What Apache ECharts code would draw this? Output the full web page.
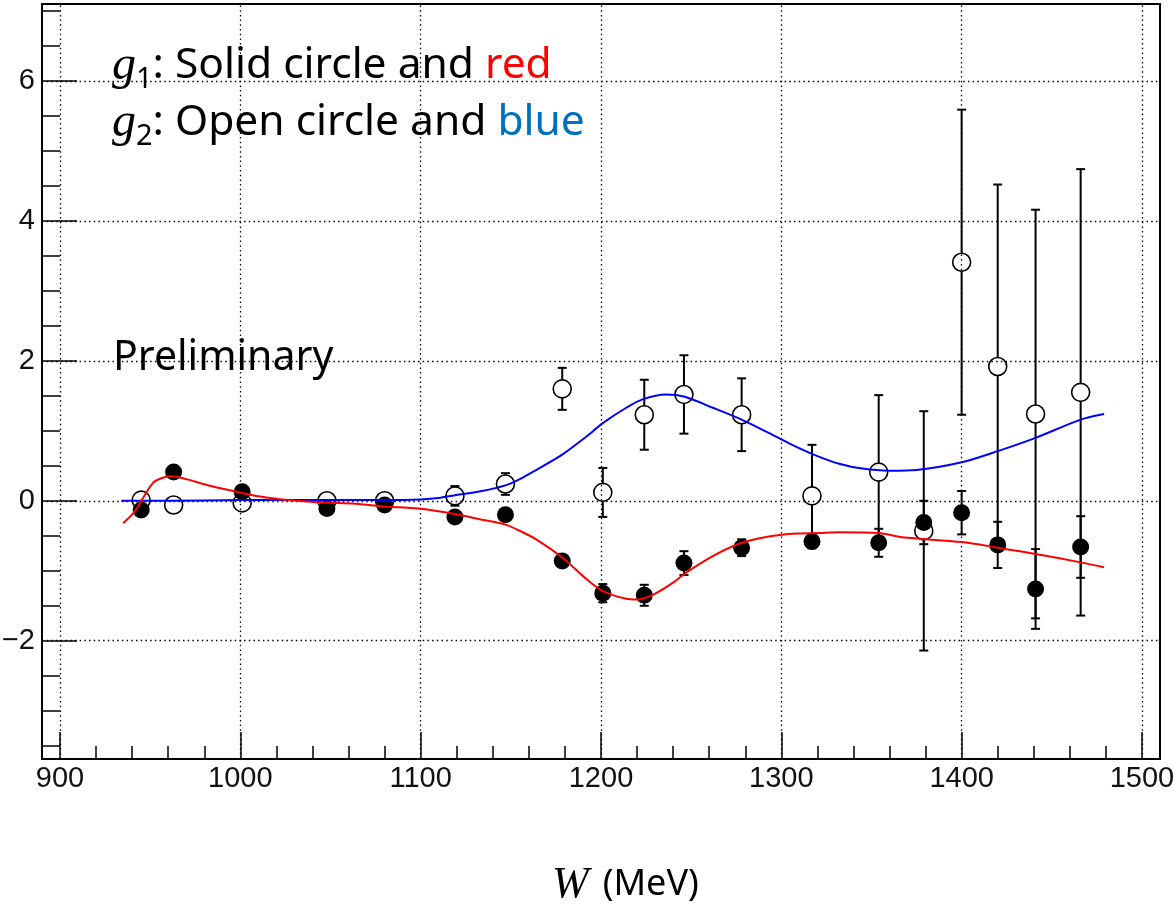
<!DOCTYPE html>
<html><head><meta charset="utf-8">
<script src="https://cdn.jsdelivr.net/npm/echarts@6/dist/echarts.min.js"></script>
<style>html,body{margin:0;padding:0;background:#fff}#c{width:1173px;height:906px}</style>
</head><body><div id="c"></div>
<script>
// ---- data ----
const W      = [945, 963, 1001, 1048, 1080, 1119, 1147, 1178.5, 1201, 1224, 1246, 1278, 1317, 1354, 1379, 1400, 1420, 1441, 1466];
const g1     = [-0.13, 0.41, 0.13, -0.11, -0.06, -0.23, -0.20, -0.86, -1.32, -1.35, -0.89, -0.67, -0.58, -0.60, -0.31, -0.17, -0.63, -1.26, -0.66];
const g1Err  = [0.05, 0.05, 0.06, 0.05, 0.05, 0.06, 0.06, 0.08, 0.13, 0.15, 0.17, 0.12, 0.10, 0.20, 0.31, 0.31, 0.33, 0.57, 0.44];
const g2     = [0.01, -0.06, -0.03, 0.00, 0.00, 0.07, 0.24, 1.60, 0.12, 1.23, 1.52, 1.23, 0.07, 0.41, -0.43, 3.41, 1.92, 1.24, 1.55];
const g2Err  = [0.05, 0.05, 0.10, 0.05, 0.06, 0.14, 0.155, 0.30, 0.35, 0.50, 0.56, 0.52, 0.73, 1.10, 1.71, 2.18, 2.60, 2.92, 3.19];

const redW   = [935, 941.5, 946, 951.7, 957, 962, 970, 981, 996, 1011, 1026, 1042, 1062, 1079, 1099, 1119, 1134, 1147, 1155, 1164, 1178.5, 1192, 1201, 1214, 1220, 1229, 1240, 1247, 1262, 1277, 1293, 1306, 1321, 1332, 1354, 1367, 1400, 1420, 1441, 1466, 1479];
const redV   = [-0.32, -0.15, 0.04, 0.26, 0.33, 0.35, 0.31, 0.23, 0.14, 0.06, 0.01, -0.02, -0.04, -0.08, -0.11, -0.19, -0.27, -0.34, -0.43, -0.55, -0.81, -1.12, -1.29, -1.40, -1.41, -1.34, -1.17, -1.03, -0.79, -0.61, -0.51, -0.47, -0.46, -0.45, -0.46, -0.52, -0.59, -0.67, -0.76, -0.88, -0.95];
const blueW  = [934, 960, 1000, 1050, 1080, 1100, 1110, 1119, 1134, 1147, 1155, 1164, 1178.5, 1192, 1201, 1214, 1223, 1236, 1246, 1262, 1278, 1293, 1306, 1319, 1332, 1345, 1360, 1375, 1400, 1420, 1441, 1466, 1479];
const blueV  = [0.00, 0.00, 0.01, 0.01, 0.01, 0.02, 0.04, 0.08, 0.14, 0.22, 0.31, 0.44, 0.66, 0.92, 1.11, 1.33, 1.45, 1.52, 1.49, 1.33, 1.16, 0.97, 0.80, 0.65, 0.53, 0.46, 0.43, 0.44, 0.55, 0.71, 0.90, 1.16, 1.24];

const xTickLabels = [900, 1000, 1100, 1200, 1300, 1400, 1500];
const yTickLabels = [-2, 0, 2, 4, 6];

// ---- axis ranges / ticks ----
const X_MIN = 890, X_MAX = 1510, Y_MIN = -3.69, Y_MAX = 7.1;
const xMinor = []; for (let v = 900; v <= 1500; v += 20) if (v % 100) xMinor.push(v);
const yMinor = []; for (let v = -3.5; v <= 7; v += 0.5) if (v % 2) yMinor.push(v);

const gridRect = {left: 42, right: 13, top: 4, bottom: 147, containLabel: false, outerBoundsMode: 'none'};

function errorBar(vals, errs) {
  return W.map((w, i) => [w, vals[i], errs[i]]);
}
function renderErr(params, api) {
  const x = api.value(0), y = api.value(1), e = api.value(2);
  const p1 = api.coord([x, y + e]), p2 = api.coord([x, y - e]);
  const c = 4.5;
  const st = {stroke: '#000', lineWidth: 2};
  return {type: 'group', children: [
    {type: 'line', shape: {x1: p1[0], y1: p1[1], x2: p2[0], y2: p2[1]}, style: st},
    {type: 'line', shape: {x1: p1[0] - c, y1: p1[1], x2: p1[0] + c, y2: p1[1]}, style: st},
    {type: 'line', shape: {x1: p2[0] - c, y1: p2[1], x2: p2[0] + c, y2: p2[1]}, style: st}
  ]};
}

const labelFont = {fontFamily: 'Liberation Sans', fontSize: 29, color: '#111'};
const noLine = {show: false, onZero: false};
const chart = echarts.init(document.getElementById('c'));
chart.setOption({
  animation: false,
  backgroundColor: '#fff',
  grid: [
    Object.assign({show: true, borderColor: '#000', borderWidth: 2, backgroundColor: 'transparent'}, gridRect),
    Object.assign({show: false}, gridRect)
  ],
  xAxis: [
    {type: 'value', gridIndex: 0, min: X_MIN, max: X_MAX,
     axisLine: noLine, splitLine: {show: false},
     axisTick: {show: true, inside: true, length: 27, customValues: xTickLabels, lineStyle: {color: '#000', width: 1.5}},
     axisLabel: Object.assign({customValues: xTickLabels, margin: 5, formatter: v => String(v)}, labelFont)},
    {type: 'value', gridIndex: 1, min: X_MIN, max: X_MAX,
     axisLine: noLine, splitLine: {show: false}, axisLabel: {show: false},
     axisTick: {show: true, inside: true, length: 13, customValues: xMinor, lineStyle: {color: '#000', width: 1.5}}}
  ],
  yAxis: [
    {type: 'value', gridIndex: 0, min: Y_MIN, max: Y_MAX,
     axisLine: noLine, splitLine: {show: false},
     axisTick: {show: true, inside: true, length: 35, customValues: yTickLabels, lineStyle: {color: '#000', width: 1.5}},
     axisLabel: Object.assign({customValues: yTickLabels, margin: 7,
       formatter: v => String(v).replace('-', '\u2212')}, labelFont)},
    {type: 'value', gridIndex: 1, min: Y_MIN, max: Y_MAX,
     axisLine: noLine, splitLine: {show: false}, axisLabel: {show: false},
     axisTick: {show: true, inside: true, length: 18, customValues: yMinor, lineStyle: {color: '#000', width: 1.5}}}
  ],
  series: [
    {type: 'line', xAxisIndex: 0, yAxisIndex: 0, data: [], z: 1,
     markLine: {silent: true, symbol: 'none', animation: false, label: {show: false},
       lineStyle: {color: '#000', width: 1.3, type: [1.5, 3.2]},
       data: xTickLabels.map(v => ({xAxis: v})).concat(yTickLabels.map(v => ({yAxis: v})))}},
    {type: 'custom', name: 'g2err', renderItem: renderErr, data: errorBar(g2, g2Err), z: 2, encode: {x: 0, y: 1}},
    {type: 'custom', name: 'g1err', renderItem: renderErr, data: errorBar(g1, g1Err), z: 2, encode: {x: 0, y: 1}},
    {type: 'scatter', name: 'g2', data: W.map((w, i) => [w, g2[i]]), symbol: 'circle', symbolSize: 18, z: 3,
     itemStyle: {color: '#fff', borderColor: '#000', borderWidth: 1.6, opacity: 1}},
    {type: 'scatter', name: 'g1', data: W.map((w, i) => [w, g1[i]]), symbol: 'circle', symbolSize: 17, z: 4,
     itemStyle: {color: '#000', opacity: 1}},
    {type: 'line', name: 'g2fit', data: blueW.map((w, i) => [w, blueV[i]]), showSymbol: false, symbol: 'none', smooth: 0.3, z: 5,
     lineStyle: {color: '#0000ff', width: 2}},
    {type: 'line', name: 'g1fit', data: redW.map((w, i) => [w, redV[i]]), showSymbol: false, symbol: 'none', smooth: 0.3, z: 5,
     lineStyle: {color: '#ff0000', width: 2}}
  ],
  graphic: [
    {type: 'text', x: 112, y: 66, z: 10, style: {
      text: '{g|g}{s|1}{t|: Solid circle and }{r|red}', verticalAlign: 'middle', align: 'left',
      rich: {
        g: {fontFamily: 'Liberation Serif', fontStyle: 'italic', fontSize: 48, fill: '#000', lineHeight: 57},
        s: {fontFamily: 'Noto Sans', fontSize: 29, fill: '#000', verticalAlign: 'bottom', lineHeight: 28},
        t: {fontFamily: 'Noto Sans', fontSize: 42.5, fill: '#000', lineHeight: 57},
        r: {fontFamily: 'Noto Sans', fontSize: 42.5, fill: '#ff0000', lineHeight: 57}
      }}},
    {type: 'text', x: 112, y: 123, z: 10, style: {
      text: '{g|g}{s|2}{t|: Open circle and }{b|blue}', verticalAlign: 'middle', align: 'left',
      rich: {
        g: {fontFamily: 'Liberation Serif', fontStyle: 'italic', fontSize: 48, fill: '#000', lineHeight: 57},
        s: {fontFamily: 'Noto Sans', fontSize: 29, fill: '#000', verticalAlign: 'bottom', lineHeight: 28},
        t: {fontFamily: 'Noto Sans', fontSize: 42.5, fill: '#000', lineHeight: 57},
        b: {fontFamily: 'Noto Sans', fontSize: 42.5, fill: '#0070c0', lineHeight: 57}
      }}},
    {type: 'text', x: 113, y: 358, z: 10, style: {
      text: 'Preliminary', fontFamily: 'Noto Sans', fontSize: 41, fill: '#000', verticalAlign: 'middle', align: 'left'}},
    {type: 'text', x: 552, y: 885, z: 10, style: {
      text: '{w|W}{t|(MeV)}', verticalAlign: 'middle', align: 'left',
      rich: {
        w: {fontFamily: 'Liberation Serif', fontStyle: 'italic', fontSize: 44, fill: '#000', padding: [0, 14, 0, 0]},
        t: {fontFamily: 'Noto Sans', fontSize: 36, fill: '#000'}
      }}}
  ]
});
</script></body></html>
